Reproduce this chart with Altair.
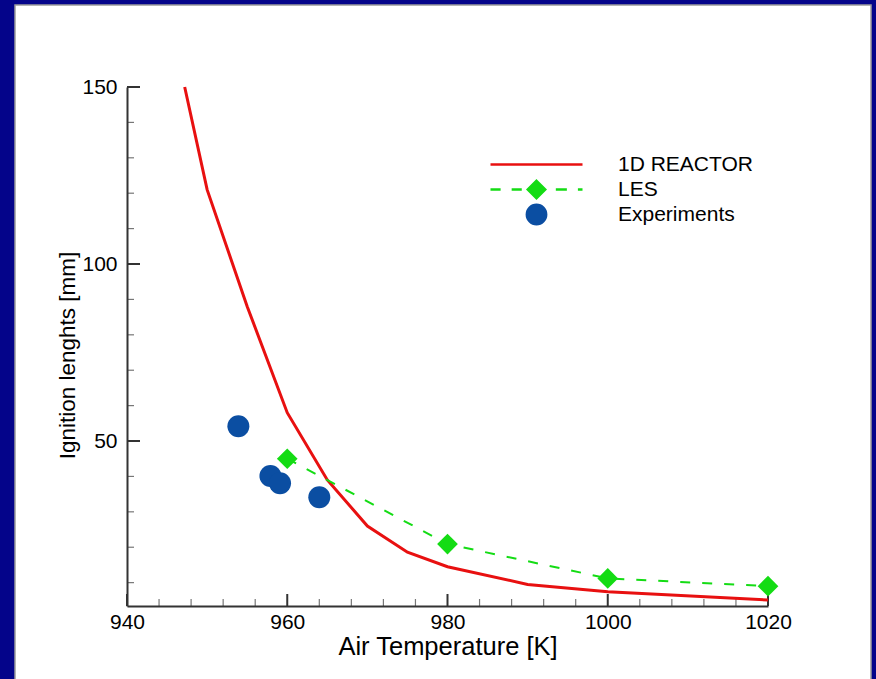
import altair as alt
import pandas as pd

# ---- data -------------------------------------------------------------
reactor_T = [947.2, 950, 955, 960, 965, 970, 975, 980, 990, 1000, 1020]
reactor_L = [150, 121, 88, 58, 39, 26, 18.6, 14.5, 9.5, 7.4, 5.1]

les_T = [960, 980, 1000, 1020]
les_L = [45.0, 20.9, 11.2, 9.0]

exp_T = [953.9, 957.9, 959.1, 964.0]
exp_L = [54.2, 40.1, 38.1, 34.1]

x_major = [940, 960, 980, 1000, 1020]
x_minor = [944, 948, 952, 956, 964, 968, 972, 976, 984, 988, 992, 996,
           1004, 1008, 1012, 1016]
y_major = [50, 100, 150]
y_minor = [10, 20, 30, 40, 60, 70, 80, 90, 110, 120, 130, 140]

SERIES = ["1D REACTOR", "LES", "Experiments"]
RED, GREEN, BLUE = "#e81010", "#14dc14", "#0b4ea2"
COLORS = [RED, GREEN, BLUE]

# legend glyphs in unit coordinates (scaled by sqrt(symbolSize)/2)
SYM_REACTOR = "M-1,0H1"
SYM_LES = ("M-1,0H-0.78M-0.54,0H-0.32M0.42,0H0.66M0.9,0H1"
           "M0,-0.19L0.19,0L0,0.19L-0.19,0Z")
SYM_EXP = "M0.21,0A0.21,0.21,0,1,1,-0.21,0A0.21,0.21,0,1,1,0.21,0Z"

FONT = "Liberation Sans"
W, H = 641, 519


def frame(name, t, l):
    return pd.DataFrame({"series": name, "T": t, "L": l})


reactor = frame(SERIES[0], reactor_T, reactor_L)
les = frame(SERIES[1], les_T, les_L)
exp = frame(SERIES[2], exp_T, exp_L)
alldata = pd.concat([reactor, les, exp], ignore_index=True)

x_scale = alt.Scale(domain=[940, 1020], nice=False, zero=False)
y_scale = alt.Scale(domain=[3.4, 150], nice=False, zero=False)

x_axis = alt.Axis(
    values=x_major, format="d", grid=False, ticks=False, tickSize=0, zindex=1,
    domainColor="#333333", domainWidth=2,
    labelFont=FONT, labelFontSize=21, labelColor="black", labelPadding=5,
    labelFlush=False,
    title="Air Temperature [K]", titleFont=FONT, titleFontSize=25.5,
    titleFontWeight="normal", titleColor="black",
    titleX=W / 2, titleY=48, titleBaseline="alphabetic", titleAlign="center",
)
y_axis = alt.Axis(
    values=y_major, format="d", grid=False, ticks=False, tickSize=0, zindex=1,
    domainColor="#333333", domainWidth=2,
    labelFont=FONT, labelFontSize=21, labelColor="black", labelPadding=10,
    title="Ignition lenghts [mm]", titleFont=FONT, titleFontSize=22.5,
    titleFontWeight="normal", titleColor="black", titleAngle=270,
    titleX=-53, titleY=268, titleBaseline="alphabetic", titleAlign="center",
)

X = alt.X("T:Q", scale=x_scale, axis=x_axis)
Y = alt.Y("L:Q", scale=y_scale, axis=y_axis)

# white slide panel behind the plot
panel = alt.Chart(pd.DataFrame({"k": [0]})).mark_rect(
    fill="white", stroke="#9c9c9c", strokeWidth=1.5
).encode(x=alt.value(-112), x2=alt.value(744), y=alt.value(-82), y2=alt.value(600))

# inward tick marks
xt_major = alt.Chart(pd.DataFrame({"T": x_major})).mark_rule(
    color="#333333", strokeWidth=2
).encode(x=X, y=alt.value(H), y2=alt.value(H - 12))
xt_minor = alt.Chart(pd.DataFrame({"T": x_minor})).mark_rule(
    color="#777777", strokeWidth=1.2
).encode(x=X, y=alt.value(H), y2=alt.value(H - 7))
yt_major = alt.Chart(pd.DataFrame({"L": y_major})).mark_rule(
    color="#333333", strokeWidth=2
).encode(y=Y, x=alt.value(0), x2=alt.value(13))
yt_minor = alt.Chart(pd.DataFrame({"L": y_minor})).mark_rule(
    color="#777777", strokeWidth=1.2
).encode(y=Y, x=alt.value(0), x2=alt.value(7))

reactor_line = alt.Chart(reactor).mark_line(color=RED, strokeWidth=3).encode(x=X, y=Y)
les_line = alt.Chart(les).mark_line(
    color=GREEN, strokeWidth=2, strokeDash=[10, 12]
).encode(x=X, y=Y)
les_pts = alt.Chart(les).mark_point(
    shape="diamond", filled=True, size=428, color=GREEN, opacity=1
).encode(x=X, y=Y)
exp_pts = alt.Chart(exp).mark_point(
    shape="circle", filled=True, size=484, color=BLUE, opacity=1
).encode(x=X, y=Y)

# legend key (the layer itself is invisible, only its legend is drawn)
leg = alt.Legend(
    title=None, orient="none", legendX=362, legendY=65, direction="vertical",
    padding=0, clipHeight=25, rowPadding=0, symbolSize=8464,
    symbolStrokeWidth=2.5, symbolOpacity=1, symbolOffset=0, labelOffset=34,
    labelFont=FONT, labelFontSize=21, labelColor="black", labelLimit=400,
)
key = alt.Chart(alldata).mark_point(filled=True, opacity=0).encode(
    x=X, y=Y,
    fill=alt.Fill("series:N", scale=alt.Scale(domain=SERIES, range=COLORS), legend=leg),
    stroke=alt.Stroke("series:N", scale=alt.Scale(domain=SERIES, range=COLORS), legend=leg),
    shape=alt.Shape("series:N",
                    scale=alt.Scale(domain=SERIES, range=[SYM_REACTOR, SYM_LES, SYM_EXP]),
                    legend=leg),
)

chart = alt.layer(
    panel, xt_minor, xt_major, yt_minor, yt_major,
    reactor_line, les_line, les_pts, exp_pts, key,
).properties(
    width=W, height=H,
    autosize=alt.AutoSizeParams(type="none"),
    padding={"left": 127, "top": 87, "right": 108, "bottom": 73},
    background="#04048a",
).configure_view(stroke=None)

chart.save("out.html", embed_options={"renderer": "svg", "actions": False})
